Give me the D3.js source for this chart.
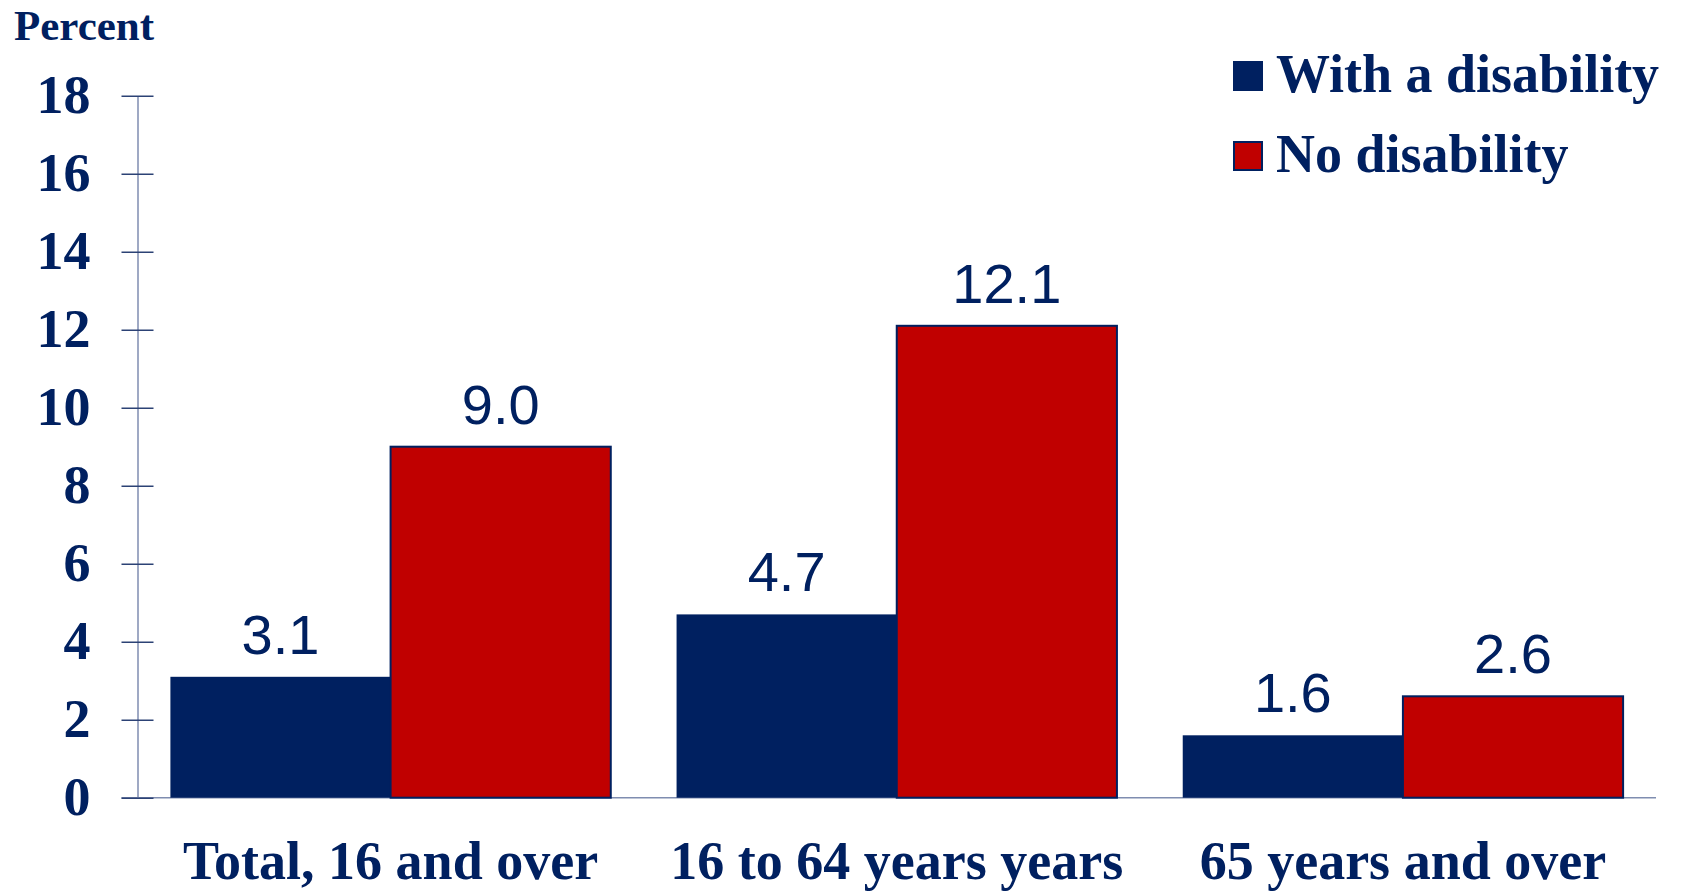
<!DOCTYPE html>
<html>
<head>
<meta charset="utf-8">
<script src="https://cdn.jsdelivr.net/npm/d3@7"></script>
<style>
  body { margin: 0; background: #fff; }
  svg { display: block; }
</style>
</head>
<body>
<svg id="container" width="1681" height="893"></svg>
<script>
// data
const categories = ["Total, 16 and over", "16 to 64 years years", "65 years and over"];
const seriesNames = ["With a disability", "No disability"];
const withDisability = [3.1, 4.7, 1.6];
const noDisability = [9.0, 12.1, 2.6];
const yTicks = [0, 2, 4, 6, 8, 10, 12, 14, 16, 18];

const navy = "#002060";
const red = "#C00000";
const axisColor = "#7f8db0";
const tickColor = "#2c4275";
const serif = "'Liberation Serif', 'Times New Roman', serif";
const sans = "'Liberation Sans', Arial, sans-serif";

const svg = d3.select("#container");

const axisX = 137.5;
const plotRight = 1656;

let xScale = d3.scaleBand()
    .domain(categories)
    .range([axisX, plotRight])
    .paddingInner(0.13)
    .paddingOuter(0.065);

let xSub = d3.scaleBand()
    .domain(seriesNames)
    .range([0, xScale.bandwidth()]);

let yScale = d3.scaleLinear()
    .domain([0, 18])
    .range([797.7, 95.7]);

let color = d3.scaleOrdinal().domain(seriesNames).range([navy, red]);

// rows for the grouped bars
let rows = categories.map((c, i) => ({
    cat: c,
    vals: [
        { name: seriesNames[0], value: withDisability[i] },
        { name: seriesNames[1], value: noDisability[i] }
    ]
}));

// baseline
svg.append("line")
    .attr("x1", axisX - 16).attr("x2", plotRight)
    .attr("y1", yScale(0)).attr("y2", yScale(0))
    .attr("stroke", axisColor).attr("stroke-width", 1.5);

// y axis
let yAxis = d3.axisLeft(yScale).tickValues(yTicks).tickSize(16).tickSizeOuter(0).tickPadding(31);
let yg = svg.append("g")
    .attr("class", "yaxis")
    .attr("transform", `translate(${axisX},0)`)
    .call(yAxis);
yg.select(".domain").attr("stroke", axisColor).attr("stroke-width", 1.5);
yg.selectAll(".tick line")
    .attr("x1", -16).attr("x2", 16)
    .attr("stroke", tickColor).attr("stroke-width", 1.5);
yg.selectAll(".tick text")
    .attr("x", -47)
    .style("font-family", serif)
    .style("font-weight", "bold")
    .style("font-size", "54px")
    .attr("fill", navy);

// bars
let groups = svg.append("g").attr("class", "bars").selectAll("g")
    .data(rows).enter()
    .append("g")
    .attr("transform", d => `translate(${xScale(d.cat)},0)`);

groups.selectAll("rect")
    .data(d => d.vals).enter()
    .append("rect")
    .attr("x", d => xSub(d.name))
    .attr("y", d => yScale(d.value))
    .attr("width", xSub.bandwidth())
    .attr("height", d => yScale(0) - yScale(d.value))
    .attr("fill", d => color(d.name))
    .attr("stroke", d => d.name === seriesNames[1] ? navy : "none")
    .attr("stroke-width", 2);

groups.selectAll("text")
    .data(d => d.vals).enter()
    .append("text")
    .attr("x", d => xSub(d.name) + xSub.bandwidth() / 2)
    .attr("y", d => yScale(d.value) - 23)
    .attr("text-anchor", "middle")
    .style("font-family", sans)
    .style("font-size", "56px")
    .attr("fill", navy)
    .text(d => d.value.toFixed(1));

// category labels
svg.append("g").attr("class", "xlabels").selectAll("text")
    .data(categories).enter()
    .append("text")
    .attr("x", d => xScale(d) + xScale.bandwidth() / 2)
    .attr("y", 879)
    .attr("text-anchor", "middle")
    .style("font-family", serif)
    .style("font-weight", "bold")
    .style("font-size", "54px")
    .attr("fill", navy)
    .text(d => d);

// y title
svg.append("text")
    .attr("x", 14).attr("y", 40)
    .style("font-family", serif)
    .style("font-weight", "bold")
    .style("font-size", "43px")
    .attr("fill", navy)
    .text("Percent");

// legend
let legend = svg.append("g").attr("class", "legend")
    .attr("transform", "translate(1234,62)");
let items = legend.selectAll("g")
    .data(seriesNames).enter()
    .append("g")
    .attr("transform", (d, i) => `translate(0,${i * 80})`);
items.append("rect")
    .attr("width", 28).attr("height", 28)
    .attr("fill", d => color(d))
    .attr("stroke", navy).attr("stroke-width", 2);
items.append("text")
    .attr("x", 42).attr("y", 30)
    .style("font-family", serif)
    .style("font-weight", "bold")
    .style("font-size", "54px")
    .attr("fill", navy)
    .text(d => d);
</script>
</body>
</html>
